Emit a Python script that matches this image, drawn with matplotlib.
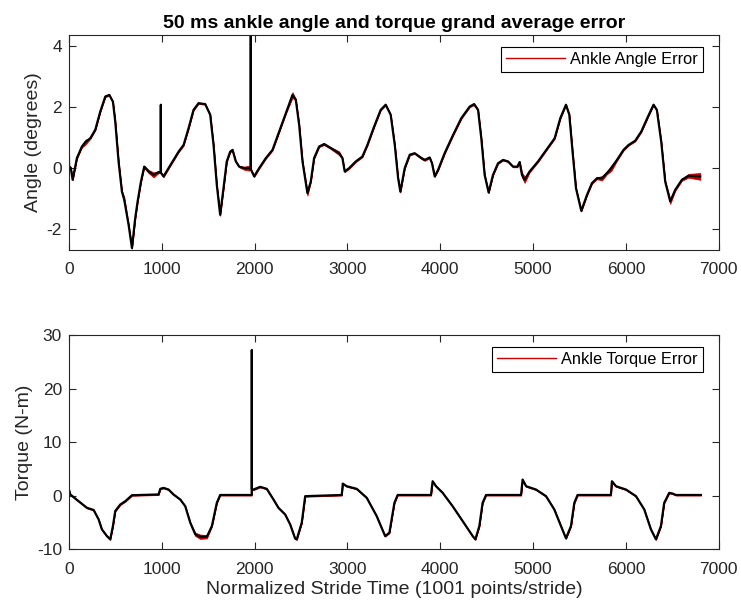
import matplotlib
matplotlib.use("Agg")
import matplotlib.pyplot as plt

plt.rcParams['font.family'] = ['Liberation Sans', 'DejaVu Sans']
plt.rcParams['axes.unicode_minus'] = False

# ankle angle (degrees)
angle_x = [0, 2, 20, 40, 86, 140, 176, 230, 284, 338,
           392, 435, 474, 499, 535, 571, 596, 643, 679, 714,
           740, 776, 811, 858, 912, 966, 989, 990, 991, 1019,
           1073, 1181, 1235, 1289, 1342, 1396, 1468, 1522, 1558, 1593,
           1629, 1665, 1700, 1737, 1762, 1798, 1834, 1888, 1942, 1958,
           1959, 1960, 1995, 2049, 2121, 2193, 2265, 2336, 2408, 2444,
           2480, 2516, 2569, 2605, 2641, 2695, 2749, 2820, 2910, 2946,
           2971, 3018, 3090, 3161, 3215, 3287, 3358, 3412, 3466, 3510,
           3546, 3570, 3617, 3671, 3724, 3797, 3832, 3886, 3911, 3940,
           3976, 4047, 4138, 4227, 4317, 4364, 4407, 4442, 4478, 4521,
           4568, 4622, 4676, 4730, 4784, 4830, 4855, 4880, 4909, 4962,
           5053, 5142, 5232, 5293, 5354, 5390, 5425, 5462, 5519, 5580,
           5634, 5688, 5742, 5795, 5842, 5903, 5974, 6028, 6100, 6165,
           6237, 6297, 6333, 6380, 6423, 6477, 6531, 6603, 6674, 6800]
angle_y = [0.40, 0.05, 0.00, -0.39, 0.32, 0.70, 0.84, 0.97, 1.25, 1.85,
           2.34, 2.39, 2.17, 1.52, 0.20, -0.78, -1.05, -1.87, -2.63, -1.65,
           -1.10, -0.45, 0.04, -0.12, -0.23, -0.14, -0.15, 2.07, -0.16, -0.28,
           -0.01, 0.53, 0.75, 1.30, 1.90, 2.12, 2.09, 1.74, 0.75, -0.56,
           -1.54, -0.67, 0.21, 0.53, 0.59, 0.21, 0.04, -0.01, -0.01, -0.02,
           4.50, -0.05, -0.28, -0.01, 0.32, 0.59, 1.19, 1.79, 2.39, 2.23,
           1.41, 0.21, -0.83, -0.45, 0.32, 0.70, 0.78, 0.65, 0.48, 0.32,
           -0.12, -0.01, 0.21, 0.37, 0.75, 1.35, 1.90, 2.07, 1.74, 0.75,
           -0.34, -0.78, -0.01, 0.43, 0.48, 0.32, 0.26, 0.34, 0.15, -0.28,
           -0.07, 0.48, 1.08, 1.63, 2.01, 2.09, 1.90, 0.97, -0.23, -0.81,
           -0.23, 0.15, 0.26, 0.21, 0.04, 0.04, 0.19, -0.23, -0.39, -0.12,
           0.21, 0.59, 0.97, 1.63, 2.07, 1.74, 0.53, -0.67, -1.41, -0.89,
           -0.50, -0.34, -0.34, -0.17, -0.01, 0.26, 0.59, 0.75, 0.89, 1.19,
           1.68, 2.07, 1.90, 0.86, -0.45, -1.10, -0.72, -0.39, -0.26, -0.28]
angle_err = [0.02, 0.02, 0.02, 0.02, 0.02, 0.03, 0.08, 0.02, 0.02, 0.02,
             0.02, 0.02, 0.02, 0.02, 0.02, 0.03, 0.09, 0.02, 0.02, 0.03,
             0.03, 0.02, 0.03, 0.05, 0.08, 0.03, 0.02, 0.02, 0.02, 0.03,
             0.02, 0.02, 0.02, 0.02, 0.02, 0.02, 0.02, 0.02, 0.02, 0.02,
             0.03, 0.02, 0.02, 0.02, 0.03, 0.02, 0.02, 0.05, 0.08, 0.03,
             0.02, 0.02, 0.02, 0.02, 0.02, 0.02, 0.02, 0.02, 0.09, 0.03,
             0.02, 0.02, 0.08, 0.02, 0.02, 0.02, 0.03, 0.03, 0.06, 0.02,
             0.02, 0.02, 0.02, 0.02, 0.02, 0.02, 0.02, 0.02, 0.02, 0.02,
             0.02, 0.03, 0.02, 0.02, 0.02, 0.03, 0.03, 0.02, 0.02, 0.02,
             0.02, 0.02, 0.02, 0.02, 0.02, 0.03, 0.02, 0.02, 0.02, 0.02,
             0.02, 0.02, 0.02, 0.02, 0.02, 0.02, 0.03, 0.08, 0.10, 0.03,
             0.02, 0.02, 0.02, 0.02, 0.02, 0.02, 0.02, 0.02, 0.02, 0.02,
             0.02, 0.03, 0.07, 0.04, 0.09, 0.03, 0.02, 0.02, 0.02, 0.02,
             0.02, 0.02, 0.02, 0.02, 0.03, 0.08, 0.03, 0.03, 0.06, 0.11]

# ankle torque (N-m)
torque_x = [0, 15, 104, 194, 266, 320, 355, 409, 445, 474,
            499, 553, 607, 679, 768, 966, 984, 1019, 1073, 1127,
            1199, 1253, 1307, 1361, 1414, 1486, 1540, 1593, 1629, 1952,
            1969, 1970, 1971, 1988, 2060, 2131, 2203, 2257, 2329, 2383,
            2437, 2454, 2508, 2545, 2939, 2950, 2992, 3100, 3208, 3315,
            3406, 3452, 3506, 3541, 3900, 3918, 3954, 4026, 4133, 4241,
            4349, 4378, 4421, 4456, 4493, 4870, 4887, 4924, 5031, 5139,
            5228, 5300, 5354, 5408, 5444, 5479, 5838, 5849, 5892, 6000,
            6108, 6197, 6269, 6323, 6377, 6412, 6466, 6502, 6538, 6807]
torque_y = [1.10, 0.19, -1.06, -2.30, -2.70, -4.47, -6.33, -7.58, -8.19, -5.70,
            -2.90, -1.68, -1.06, 0.06, 0.10, 0.20, 1.25, 1.43, 1.12, 0.19,
            -0.74, -2.00, -5.08, -7.26, -7.70, -7.70, -5.70, -1.37, 0.10, 0.10,
            0.10, 27.20, 1.20, 1.12, 1.62, 1.25, -0.74, -2.30, -3.54, -5.40,
            -8.06, -8.19, -5.08, -0.12, 0.10, 2.23, 1.74, 1.25, -0.43, -3.85,
            -7.58, -6.95, -1.37, 0.10, 0.10, 2.67, 1.74, 0.50, -2.00, -4.78,
            -7.58, -8.19, -5.70, -1.37, 0.10, 0.10, 2.98, 1.74, 1.12, -0.12,
            -2.60, -5.70, -8.00, -5.70, -1.37, 0.10, 0.10, 2.67, 1.74, 1.12,
            -0.12, -2.60, -6.33, -8.19, -5.70, -1.37, 0.50, 0.37, 0.10, 0.10]
torque_err = [0.1, 0.1, 0.1, 0.1, 0.1, 0.1, 0.1, 0.1, 0.1, 0.1,
              0.1, 0.1, 0.1, 0.1, 0.1, 0.1, 0.1, 0.1, 0.1, 0.1,
              0.1, 0.1, 0.1, 0.3, 0.4, 0.3, 0.1, 0.1, 0.1, 0.1,
              0.1, 0.1, 0.1, 0.1, 0.1, 0.1, 0.1, 0.1, 0.1, 0.1,
              0.1, 0.1, 0.1, 0.1, 0.1, 0.1, 0.1, 0.1, 0.1, 0.1,
              0.1, 0.1, 0.1, 0.1, 0.1, 0.1, 0.1, 0.1, 0.1, 0.1,
              0.1, 0.1, 0.1, 0.1, 0.1, 0.1, 0.1, 0.1, 0.1, 0.1,
              0.1, 0.1, 0.1, 0.1, 0.1, 0.1, 0.1, 0.1, 0.1, 0.1,
              0.1, 0.1, 0.1, 0.1, 0.1, 0.1, 0.1, 0.1, 0.1, 0.1]

RED = '#c80000'
AX_COL = '#262626'


def band_plot(ax, x, y, err, label):
    lo = [v - e for v, e in zip(y, err)]
    hi = [v + e for v, e in zip(y, err)]
    ax.fill_between(x, lo, hi, color=RED, lw=0.6, edgecolor=RED)
    ax.plot([], [], color=RED, lw=1.0, label=label)
    ax.plot(x, y, color='black', lw=1.6)


def style(ax):
    ax.set_xlim(0, 7000)
    ax.set_xticks(range(0, 7001, 1000))
    ax.tick_params(direction='in', top=True, right=True, length=5,
                   labelsize=12.5, colors=AX_COL, width=0.8)
    ax.tick_params(axis='x', pad=9)
    ax.tick_params(axis='y', pad=5)
    for s in ax.spines.values():
        s.set_color(AX_COL)
        s.set_linewidth(0.8)


def add_legend(ax):
    leg = ax.legend(loc='upper right', bbox_to_anchor=(0.975, 0.944),
                    borderaxespad=0, fancybox=False, edgecolor='black',
                    framealpha=1, fontsize=11.8, handlelength=3.6,
                    borderpad=0.3, handletextpad=0.3)
    leg.get_frame().set_linewidth(0.8)


fig = plt.figure(figsize=(7.41, 6.08), dpi=100)
ax1 = fig.add_axes([0.093, 0.589, 0.877, 0.3536])
ax2 = fig.add_axes([0.093, 0.097, 0.877, 0.352])

band_plot(ax1, angle_x, angle_y, angle_err, 'Ankle Angle Error')
style(ax1)
ax1.set_ylim(-2.69, 4.36)
ax1.set_yticks([-2, 0, 2, 4])
ax1.set_ylabel('Angle (degrees)', fontsize=14, color=AX_COL, labelpad=3)
ax1.set_title('50 ms ankle angle and torque grand average error',
              fontsize=14, fontweight='bold', pad=5)
add_legend(ax1)

band_plot(ax2, torque_x, torque_y, torque_err, 'Ankle Torque Error')
style(ax2)
ax2.set_ylim(-10, 30)
ax2.set_yticks([-10, 0, 10, 20, 30])
ax2.set_ylabel('Torque (N-m)', fontsize=14, color=AX_COL, labelpad=3)
ax2.set_xlabel('Normalized Stride Time (1001 points/stride)', fontsize=14,
               color=AX_COL, labelpad=3)
add_legend(ax2)

fig.savefig('out.png', dpi=100, facecolor='white')
